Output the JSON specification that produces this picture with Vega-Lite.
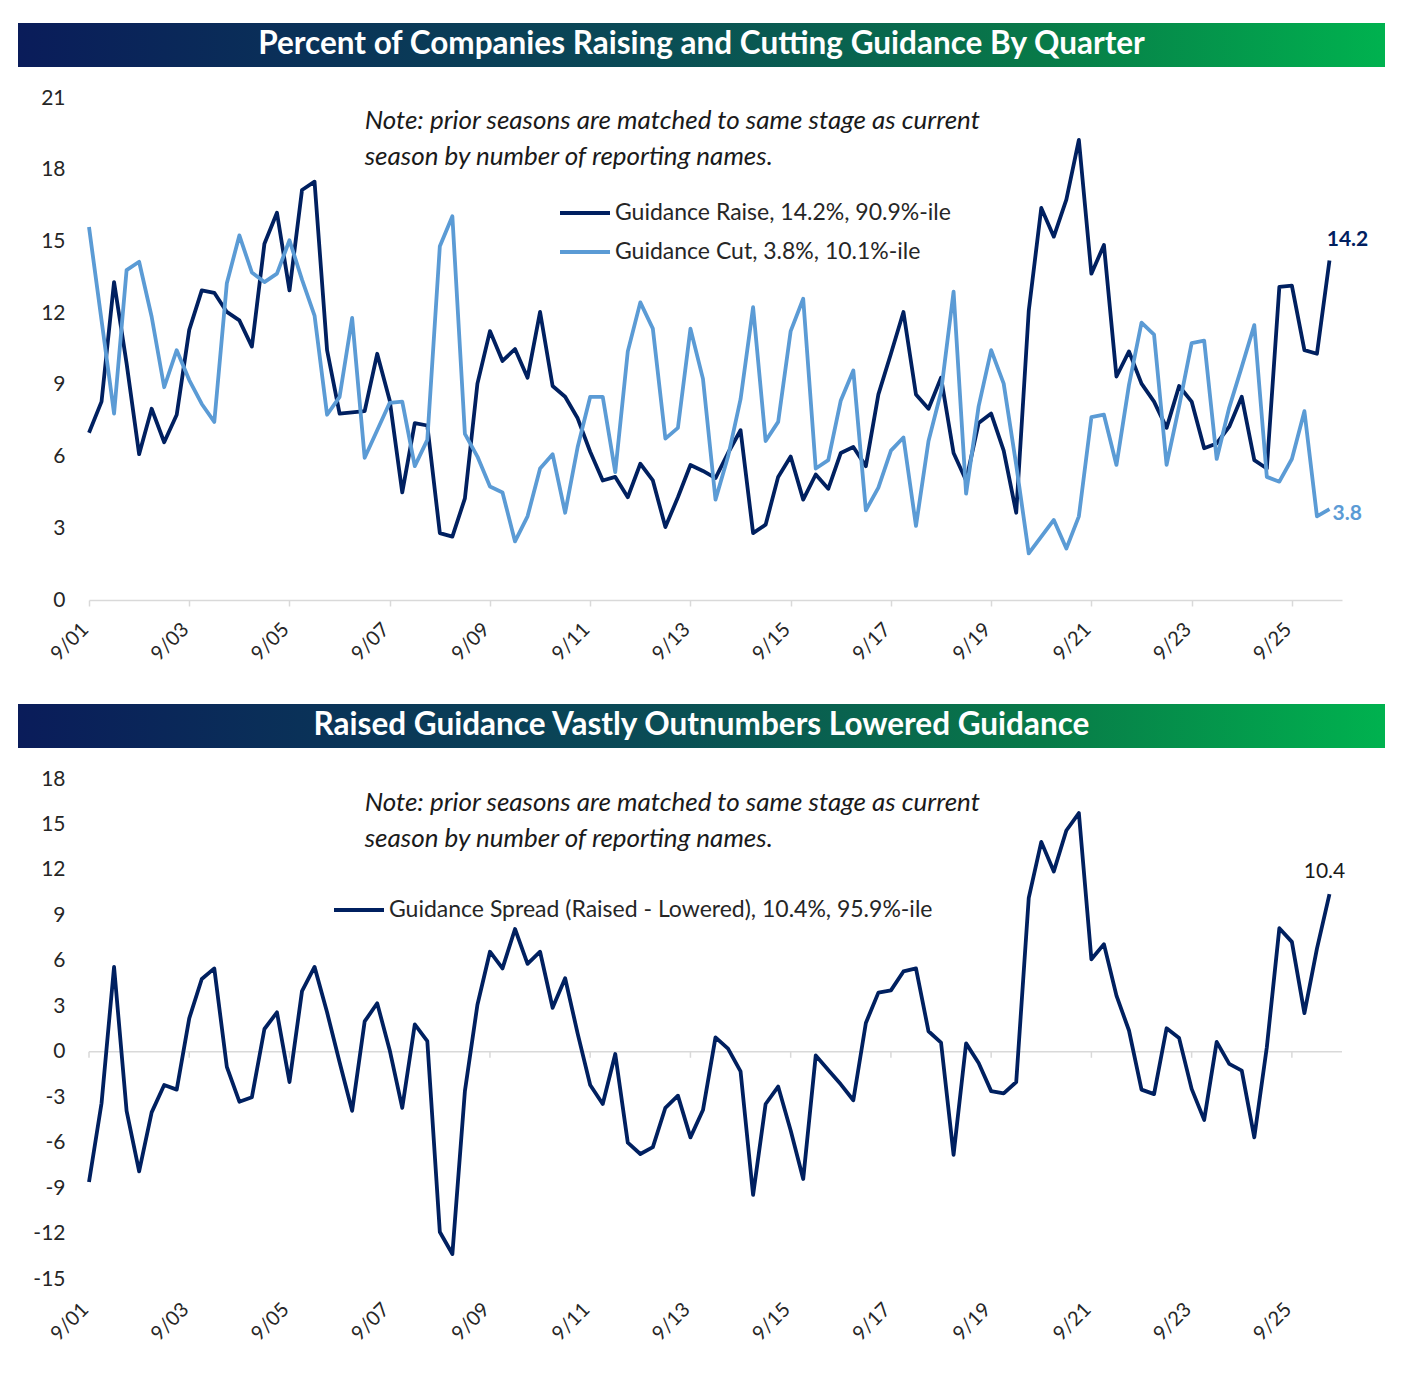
{
  "$schema": "https://vega.github.io/schema/vega-lite/v6.json",
  "padding": {"left": 18, "top": 23, "right": 0, "bottom": 0},
  "background": "white",
  "datasets": {
    "guidance": [
      {"q": 0, "raise": 7.0, "cut": 15.6, "spread": -8.6},
      {"q": 1, "raise": 8.3, "cut": 11.7, "spread": -3.4},
      {"q": 2, "raise": 13.3, "cut": 7.8, "spread": 5.6},
      {"q": 3, "raise": 9.9, "cut": 13.8, "spread": -3.9},
      {"q": 4, "raise": 6.1, "cut": 14.15, "spread": -7.9},
      {"q": 5, "raise": 8.0, "cut": 11.85, "spread": -4.0},
      {"q": 6, "raise": 6.6, "cut": 8.9, "spread": -2.2},
      {"q": 7, "raise": 7.75, "cut": 10.45, "spread": -2.5},
      {"q": 8, "raise": 11.3, "cut": 9.2, "spread": 2.2},
      {"q": 9, "raise": 12.95, "cut": 8.2, "spread": 4.8},
      {"q": 10, "raise": 12.85, "cut": 7.45, "spread": 5.5},
      {"q": 11, "raise": 12.05, "cut": 13.25, "spread": -1.0},
      {"q": 12, "raise": 11.7, "cut": 15.25, "spread": -3.3},
      {"q": 13, "raise": 10.6, "cut": 13.7, "spread": -3.0},
      {"q": 14, "raise": 14.9, "cut": 13.3, "spread": 1.5},
      {"q": 15, "raise": 16.2, "cut": 13.65, "spread": 2.6},
      {"q": 16, "raise": 12.95, "cut": 15.05, "spread": -2.0},
      {"q": 17, "raise": 17.15, "cut": 13.4, "spread": 4.0},
      {"q": 18, "raise": 17.5, "cut": 11.9, "spread": 5.6},
      {"q": 19, "raise": 10.45, "cut": 7.75, "spread": 2.6},
      {"q": 20, "raise": 7.8, "cut": 8.5, "spread": -0.7},
      {"q": 21, "raise": 7.85, "cut": 11.8, "spread": -3.9},
      {"q": 22, "raise": 7.9, "cut": 5.95, "spread": 2.0},
      {"q": 23, "raise": 10.3, "cut": 7.1, "spread": 3.2},
      {"q": 24, "raise": 8.35, "cut": 8.25, "spread": 0.1},
      {"q": 25, "raise": 4.5, "cut": 8.3, "spread": -3.7},
      {"q": 26, "raise": 7.4, "cut": 5.6, "spread": 1.8},
      {"q": 27, "raise": 7.3, "cut": 6.7, "spread": 0.7},
      {"q": 28, "raise": 2.8, "cut": 14.8, "spread": -11.9},
      {"q": 29, "raise": 2.65, "cut": 16.05, "spread": -13.35},
      {"q": 30, "raise": 4.25, "cut": 6.95, "spread": -2.6},
      {"q": 31, "raise": 9.05, "cut": 6.0, "spread": 3.1},
      {"q": 32, "raise": 11.25, "cut": 4.75, "spread": 6.6},
      {"q": 33, "raise": 10.0, "cut": 4.5, "spread": 5.5},
      {"q": 34, "raise": 10.5, "cut": 2.45, "spread": 8.1},
      {"q": 35, "raise": 9.3, "cut": 3.5, "spread": 5.8},
      {"q": 36, "raise": 12.05, "cut": 5.5, "spread": 6.6},
      {"q": 37, "raise": 8.95, "cut": 6.1, "spread": 2.9},
      {"q": 38, "raise": 8.5, "cut": 3.65, "spread": 4.85},
      {"q": 39, "raise": 7.6, "cut": 6.4, "spread": 1.2},
      {"q": 40, "raise": 6.2, "cut": 8.5, "spread": -2.2},
      {"q": 41, "raise": 5.0, "cut": 8.5, "spread": -3.45},
      {"q": 42, "raise": 5.15, "cut": 5.35, "spread": -0.15},
      {"q": 43, "raise": 4.3, "cut": 10.4, "spread": -6.0},
      {"q": 44, "raise": 5.7, "cut": 12.45, "spread": -6.75},
      {"q": 45, "raise": 5.0, "cut": 11.35, "spread": -6.3},
      {"q": 46, "raise": 3.05, "cut": 6.75, "spread": -3.7},
      {"q": 47, "raise": 4.3, "cut": 7.2, "spread": -2.9},
      {"q": 48, "raise": 5.65, "cut": 11.35, "spread": -5.65},
      {"q": 49, "raise": 5.4, "cut": 9.25, "spread": -3.85},
      {"q": 50, "raise": 5.1, "cut": 4.2, "spread": 0.95},
      {"q": 51, "raise": 6.15, "cut": 6.0, "spread": 0.2},
      {"q": 52, "raise": 7.1, "cut": 8.4, "spread": -1.3},
      {"q": 53, "raise": 2.8, "cut": 12.25, "spread": -9.45},
      {"q": 54, "raise": 3.15, "cut": 6.65, "spread": -3.45},
      {"q": 55, "raise": 5.15, "cut": 7.45, "spread": -2.3},
      {"q": 56, "raise": 6.0, "cut": 11.25, "spread": -5.2},
      {"q": 57, "raise": 4.2, "cut": 12.6, "spread": -8.4},
      {"q": 58, "raise": 5.25, "cut": 5.5, "spread": -0.25},
      {"q": 59, "raise": 4.65, "cut": 5.85, "spread": -1.2},
      {"q": 60, "raise": 6.15, "cut": 8.35, "spread": -2.15},
      {"q": 61, "raise": 6.4, "cut": 9.6, "spread": -3.2},
      {"q": 62, "raise": 5.6, "cut": 3.75, "spread": 1.9},
      {"q": 63, "raise": 8.6, "cut": 4.7, "spread": 3.9},
      {"q": 64, "raise": 10.3, "cut": 6.25, "spread": 4.05},
      {"q": 65, "raise": 12.05, "cut": 6.8, "spread": 5.3},
      {"q": 66, "raise": 8.6, "cut": 3.1, "spread": 5.5},
      {"q": 67, "raise": 8.0, "cut": 6.65, "spread": 1.35},
      {"q": 68, "raise": 9.3, "cut": 8.7, "spread": 0.6},
      {"q": 69, "raise": 6.15, "cut": 12.9, "spread": -6.8},
      {"q": 70, "raise": 5.0, "cut": 4.45, "spread": 0.55},
      {"q": 71, "raise": 7.4, "cut": 8.1, "spread": -0.75},
      {"q": 72, "raise": 7.8, "cut": 10.45, "spread": -2.6},
      {"q": 73, "raise": 6.25, "cut": 9.05, "spread": -2.75},
      {"q": 74, "raise": 3.65, "cut": 5.65, "spread": -2.0},
      {"q": 75, "raise": 12.1, "cut": 1.95, "spread": 10.15},
      {"q": 76, "raise": 16.4, "cut": 2.65, "spread": 13.85},
      {"q": 77, "raise": 15.2, "cut": 3.35, "spread": 11.9},
      {"q": 78, "raise": 16.75, "cut": 2.15, "spread": 14.6},
      {"q": 79, "raise": 19.25, "cut": 3.5, "spread": 15.75},
      {"q": 80, "raise": 13.65, "cut": 7.65, "spread": 6.1},
      {"q": 81, "raise": 14.85, "cut": 7.75, "spread": 7.1},
      {"q": 82, "raise": 9.35, "cut": 5.65, "spread": 3.7},
      {"q": 83, "raise": 10.4, "cut": 9.0, "spread": 1.4},
      {"q": 84, "raise": 9.05, "cut": 11.6, "spread": -2.5},
      {"q": 85, "raise": 8.3, "cut": 11.1, "spread": -2.8},
      {"q": 86, "raise": 7.2, "cut": 5.65, "spread": 1.55},
      {"q": 87, "raise": 8.95, "cut": 8.1, "spread": 0.9},
      {"q": 88, "raise": 8.3, "cut": 10.75, "spread": -2.45},
      {"q": 89, "raise": 6.35, "cut": 10.85, "spread": -4.5},
      {"q": 90, "raise": 6.55, "cut": 5.9, "spread": 0.65},
      {"q": 91, "raise": 7.25, "cut": 8.05, "spread": -0.8},
      {"q": 92, "raise": 8.5, "cut": 9.75, "spread": -1.25},
      {"q": 93, "raise": 5.85, "cut": 11.5, "spread": -5.65},
      {"q": 94, "raise": 5.5, "cut": 5.15, "spread": 0.3},
      {"q": 95, "raise": 13.1, "cut": 4.95, "spread": 8.15},
      {"q": 96, "raise": 13.15, "cut": 5.9, "spread": 7.25},
      {"q": 97, "raise": 10.45, "cut": 7.9, "spread": 2.55},
      {"q": 98, "raise": 10.3, "cut": 3.5, "spread": 6.8},
      {"q": 99, "raise": 14.2, "cut": 3.8, "spread": 10.4}
    ]
  },
  "spacing": 39,
  "vconcat": [
    {
      "spacing": 20,
      "vconcat": [
        {
          "width": 1296,
          "height": 44,
          "data": {"values": [{"title": "Percent of Companies Raising and Cutting Guidance By Quarter"}]},
          "layer": [
            {
              "mark": {
                "type": "rect",
                "fill": {
                  "gradient": "linear",
                  "stops": [
                    {"offset": 0, "color": "#0a1c5a"},
                    {"offset": 0.45, "color": "#0a4a56"},
                    {"offset": 0.75, "color": "#087a48"},
                    {"offset": 1, "color": "#00b24f"}
                  ]
                }
              },
              "encoding": {
                "x": {"value": -71},
                "x2": {"value": "width"},
                "y": {"value": 0},
                "y2": {"value": "height"}
              }
            },
            {
              "mark": {"type": "text", "color": "white", "fontSize": 31.5, "fontWeight": "bold", "dx": -35.5},
              "encoding": {"text": {"field": "title"}}
            }
          ]
        },
        {
          "width": 1253,
          "height": 502,
          "data": {"name": "guidance"},
          "encoding": {
            "x": {
              "field": "q",
              "type": "quantitative",
              "scale": {"domain": [0, 100], "nice": false, "zero": false},
              "axis": {
                "title": null,
                "values": [0, 8, 16, 24, 32, 40, 48, 56, 64, 72, 80, 88, 96],
                "labelExpr": "'9/' + (floor(datum.value / 4) + 1 < 10 ? '0' : '') + (floor(datum.value / 4) + 1)",
                "labelAngle": -45,
                "labelAlign": "right",
                "labelBaseline": "middle",
                "labelPadding": 20,
                "labelOffset": -4,
                "labelFontSize": 20,
                "domainColor": "#d9d9d9",
                "domainWidth": 1.5,
                "tickColor": "#d9d9d9",
                "tickSize": 6,
                "tickWidth": 1.5
              }
            }
          },
          "layer": [
            {
              "mark": {"type": "line", "strokeWidth": 3.8, "strokeJoin": "round"},
              "encoding": {
                "y": {
                  "field": "raise",
                  "type": "quantitative",
                  "scale": {"domain": [0, 21], "nice": false},
                  "axis": {
                    "title": null,
                    "values": [0, 3, 6, 9, 12, 15, 18, 21],
                    "labelExpr": "'' + datum.value",
                    "domain": false,
                    "ticks": false,
                    "tickSize": 0,
                    "labelPadding": 24,
                    "labelFontSize": 21,
                    "minExtent": 71
                  }
                },
                "color": {
                  "datum": "Guidance Raise, 14.2%, 90.9%-ile",
                  "scale": {
                    "domain": ["Guidance Raise, 14.2%, 90.9%-ile", "Guidance Cut, 3.8%, 10.1%-ile"],
                    "range": ["#002060", "#5b9bd5"]
                  },
                  "legend": {
                    "orient": "none",
                    "legendX": 469,
                    "legendY": 163,
                    "title": null,
                    "symbolType": "stroke",
                    "symbolSize": 2500,
                    "symbolStrokeWidth": 4,
                    "labelFontSize": 23,
                    "labelOffset": 3,
                    "labelLimit": 1000,
                    "rowPadding": -1
                  }
                }
              }
            },
            {
              "mark": {"type": "line", "strokeWidth": 3.8, "strokeJoin": "round"},
              "encoding": {
                "y": {"field": "cut", "type": "quantitative"},
                "color": {"datum": "Guidance Cut, 3.8%, 10.1%-ile"}
              }
            },
            {
              "transform": [{"filter": "datum.q == 99"}],
              "mark": {"type": "text", "fontSize": 21, "fontWeight": "bold", "color": "#002060", "align": "center", "dx": 18, "dy": -21},
              "encoding": {
                "y": {"field": "raise", "type": "quantitative"},
                "text": {"field": "raise", "format": ".1f"}
              }
            },
            {
              "transform": [{"filter": "datum.q == 99"}],
              "mark": {"type": "text", "fontSize": 21, "fontWeight": "bold", "color": "#5b9bd5", "align": "left", "dx": 3, "dy": 5},
              "encoding": {
                "y": {"field": "cut", "type": "quantitative"},
                "text": {"field": "cut", "format": ".1f"}
              }
            },
            {
              "transform": [{"filter": "datum.q == 22"}],
              "mark": {"type": "text", "align": "left", "baseline": "middle", "fontStyle": "italic", "fontSize": 26, "lineHeight": 36, "lineBreak": "\n", "color": "#1a1a1a"},
              "encoding": {
                "y": {"datum": 20.04, "type": "quantitative"},
                "text": {"value": "Note: prior seasons are matched to same stage as current\nseason by number of reporting names."}
              }
            }
          ]
        }
      ]
    },
    {
      "spacing": 20,
      "vconcat": [
        {
          "width": 1296,
          "height": 44,
          "data": {"values": [{"title": "Raised Guidance Vastly Outnumbers Lowered Guidance"}]},
          "layer": [
            {
              "mark": {
                "type": "rect",
                "fill": {
                  "gradient": "linear",
                  "stops": [
                    {"offset": 0, "color": "#0a1c5a"},
                    {"offset": 0.45, "color": "#0a4a56"},
                    {"offset": 0.75, "color": "#087a48"},
                    {"offset": 1, "color": "#00b24f"}
                  ]
                }
              },
              "encoding": {
                "x": {"value": -71},
                "x2": {"value": "width"},
                "y": {"value": 0},
                "y2": {"value": "height"}
              }
            },
            {
              "mark": {"type": "text", "color": "white", "fontSize": 31.5, "fontWeight": "bold", "dx": -35.5},
              "encoding": {"text": {"field": "title"}}
            }
          ]
        },
        {
          "width": 1253,
          "height": 500,
          "data": {"name": "guidance"},
          "encoding": {
            "x": {
              "field": "q",
              "type": "quantitative",
              "scale": {"domain": [0, 100], "nice": false, "zero": false},
              "axis": {
                "title": null,
                "values": [0, 8, 16, 24, 32, 40, 48, 56, 64, 72, 80, 88, 96],
                "labelExpr": "'9/' + (floor(datum.value / 4) + 1 < 10 ? '0' : '') + (floor(datum.value / 4) + 1)",
                "labelAngle": -45,
                "labelAlign": "right",
                "labelBaseline": "middle",
                "labelPadding": 27,
                "labelOffset": -4,
                "labelFontSize": 20,
                "domain": false,
                "ticks": false
              }
            }
          },
          "layer": [
            {
              "data": {"values": [{}]},
              "mark": {"type": "rule", "color": "#d9d9d9", "strokeWidth": 1.5},
              "encoding": {"x": null, "y": {"datum": 0}}
            },
            {
              "transform": [{"filter": "datum.q % 8 == 0"}],
              "mark": {"type": "rule", "color": "#d9d9d9", "strokeWidth": 1.5},
              "encoding": {"y": {"datum": 0}, "y2": {"datum": -0.4}}
            },
            {
              "mark": {"type": "line", "strokeWidth": 3.8, "strokeJoin": "round"},
              "encoding": {
                "y": {
                  "field": "spread",
                  "type": "quantitative",
                  "scale": {"domain": [-15, 18], "nice": false, "zero": false},
                  "axis": {
                    "title": null,
                    "values": [-15, -12, -9, -6, -3, 0, 3, 6, 9, 12, 15, 18],
                    "labelExpr": "'' + datum.value",
                    "domain": false,
                    "ticks": false,
                    "tickSize": 0,
                    "labelPadding": 24,
                    "labelFontSize": 21,
                    "minExtent": 71
                  }
                },
                "color": {
                  "datum": "Guidance Spread (Raised - Lowered), 10.4%, 95.9%-ile",
                  "scale": {"range": ["#002060"]},
                  "legend": {
                    "orient": "none",
                    "legendX": 243,
                    "legendY": 179,
                    "title": null,
                    "symbolType": "stroke",
                    "symbolSize": 2500,
                    "symbolStrokeWidth": 4,
                    "labelFontSize": 23,
                    "labelOffset": 3,
                    "labelLimit": 1000
                  }
                }
              }
            },
            {
              "transform": [{"filter": "datum.q == 99"}],
              "mark": {"type": "text", "fontSize": 21, "color": "#1a1a1a", "align": "center", "dx": -5, "dy": -22},
              "encoding": {
                "y": {"field": "spread", "type": "quantitative"},
                "text": {"field": "spread", "format": ".1f"}
              }
            },
            {
              "transform": [{"filter": "datum.q == 22"}],
              "mark": {"type": "text", "align": "left", "baseline": "middle", "fontStyle": "italic", "fontSize": 26, "lineHeight": 36, "lineBreak": "\n", "color": "#1a1a1a"},
              "encoding": {
                "y": {"datum": 16.42, "type": "quantitative"},
                "text": {"value": "Note: prior seasons are matched to same stage as current\nseason by number of reporting names."}
              }
            }
          ]
        }
      ]
    }
  ],
  "resolve": {"scale": {"color": "independent"}, "legend": {"color": "independent"}},
  "config": {
    "font": "Lato",
    "view": {"stroke": null},
    "axis": {"grid": false, "labelColor": "#262626", "labelFont": "Lato"},
    "legend": {"labelColor": "#262626", "labelFont": "Lato"},
    "text": {"font": "Lato"}
  }
}
